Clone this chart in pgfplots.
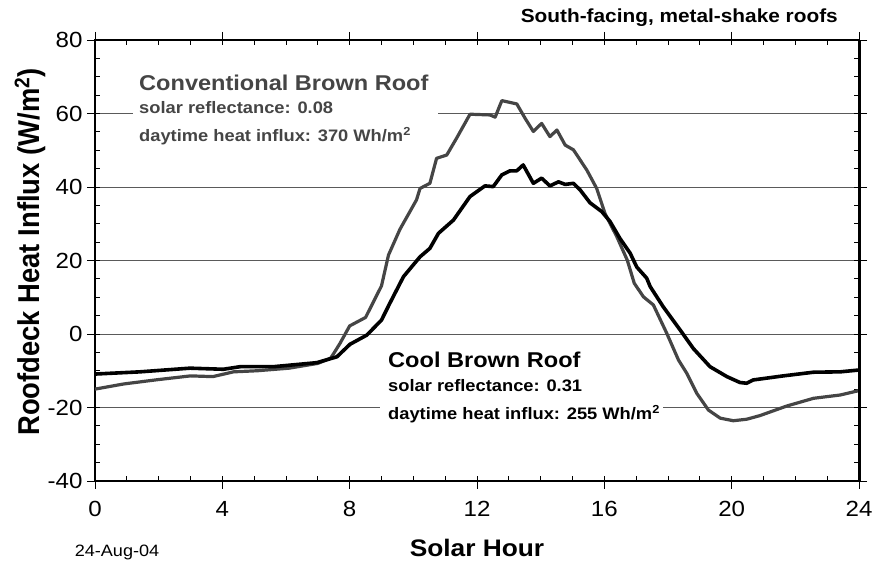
\documentclass[border=0pt]{standalone}
\usepackage{fontspec}
\setmainfont{Liberation Sans}[FakeStretch=1.1]
\newfontfamily\ylabfont{Liberation Sans}
\usepackage{pgfplots}
\pgfplotsset{compat=1.18}
\definecolor{convgray}{HTML}{454545}
\definecolor{gridgray}{HTML}{5A5A5A}

\pgfplotstableread{
h v
0 -15.0
0.9 -13.6
1.9 -12.5
3.0 -11.4
3.7 -11.6
4.35 -10.3
5.1 -10.0
6.1 -9.3
7.0 -8.0
7.4 -6.6
7.5 -5.3
7.7 -2.5
8.0 2.2
8.5 4.5
9.0 13.1
9.22 21.5
9.58 28.5
10.1 36.5
10.21 39.6
10.52 41.0
10.73 47.8
11.05 48.7
11.36 53.3
11.78 59.8
12.41 59.6
12.57 59.0
12.78 63.5
13.25 62.6
13.51 58.7
13.77 55.1
14.03 57.3
14.29 53.7
14.51 55.5
14.77 51.4
15.03 50.1
15.45 44.6
15.76 39.6
16.02 32.8
16.39 26.5
16.72 20.1
16.94 13.8
17.23 10.1
17.54 7.9
17.96 0.2
18.33 -7.1
18.59 -10.7
18.9 -16.1
19.27 -20.7
19.64 -22.9
20.05 -23.6
20.47 -23.2
20.89 -22.2
21.73 -19.6
22.57 -17.5
23.41 -16.6
24 -15.4
}\convtable

\pgfplotstableread{
h v
0 -10.9
1.41 -10.3
2.98 -9.3
4.03 -9.6
4.56 -8.9
5.6 -8.9
6.97 -7.8
7.6 -6.2
8.01 -2.8
8.54 -0.3
9.0 3.8
9.27 8.5
9.69 15.6
10.21 21.0
10.52 23.3
10.79 27.4
11.26 31.0
11.78 37.4
12.25 40.3
12.51 40.1
12.78 43.3
13.04 44.4
13.25 44.4
13.45 46.0
13.77 41.0
14.03 42.4
14.29 40.3
14.56 41.4
14.77 40.7
15.03 41.0
15.24 39.2
15.55 35.7
15.92 33.3
16.18 30.6
16.49 26.0
16.81 22.0
17.02 18.2
17.33 15.2
17.44 12.9
17.85 7.4
18.38 1.1
18.8 -4.0
19.32 -8.9
19.85 -11.6
20.26 -13.2
20.47 -13.4
20.68 -12.5
21.62 -11.4
22.57 -10.4
23.41 -10.3
24 -9.8
}\cooltable

\begin{document}
\begin{tikzpicture}[x=1bp,y=1bp]
\useasboundingbox (0,0) rectangle (874,562);
\begin{axis}[
  at={(95bp,81bp)}, anchor=south west,
  scale only axis, width=764bp, height=441bp,
  xmin=0, xmax=24, ymin=-40, ymax=80,
  xtick={0,4,...,24}, ytick={-40,-20,...,80},
  minor x tick num=3, minor y tick num=3,
  ymajorgrids, major grid style={gridgray, line width=0.8bp},
  tick align=inside, major tick length=5bp, minor tick length=5bp,
  tick style={black, line width=0.8bp},
  extra x ticks={0,4,...,24}, extra x tick labels={},
  extra x tick style={tick align=outside, major tick length=8bp, grid=none},
  extra y ticks={-40,-20,...,80}, extra y tick labels={},
  extra y tick style={tick align=outside, major tick length=8bp, grid=none},
  axis line style={black, line width=1.3bp},
  /pgf/number format/assume math mode=true,
  ticklabel style={font=\fontsize{22}{22}\selectfont},
  xticklabel style={yshift=-17bp},
  yticklabel style={xshift=-9bp},
  clip=false,
]
\addplot[convgray, line width=3.2bp, line join=round] table[x=h,y=v] {\convtable};
\addplot[black, line width=3.6bp, line join=round] table[x=h,y=v] {\cooltable};
\end{axis}
\draw[line width=3bp] (859,81) -- (859,522);
% white gaps in grid behind annotation blocks
\fill[white] (133,442) rectangle (438,456);
\fill[white] (380,147) rectangle (663,162);
\node[anchor=base east, inner sep=0, font=\bfseries\fontsize{19}{19}\selectfont] at (838,539) {South-facing, metal-shake roofs};
\node[anchor=base west, inner sep=0, text=convgray, font=\bfseries\fontsize{21.5}{21.5}\selectfont] at (139,471) {Conventional Brown Roof};
\node[anchor=base west, inner sep=0, text=convgray, font=\bfseries\fontsize{16.7}{16.7}\selectfont] at (139,448) {solar reflectance: 0.08};
\node[anchor=base west, inner sep=0, text=convgray, font=\bfseries\fontsize{16.7}{16.7}\selectfont] at (139,420) {daytime heat influx: 370 Wh/m\textsuperscript{2}};
\node[anchor=base west, inner sep=0, font=\bfseries\fontsize{21.5}{21.5}\selectfont] at (388,194) {Cool Brown Roof};
\node[anchor=base west, inner sep=0, font=\bfseries\fontsize{16.7}{16.7}\selectfont] at (388,170) {solar reflectance: 0.31};
\node[anchor=base west, inner sep=0, font=\bfseries\fontsize{16.7}{16.7}\selectfont] at (388,142) {daytime heat influx: 255 Wh/m\textsuperscript{2}};
\node[anchor=base, inner sep=0, font=\fontsize{16.5}{16.5}\selectfont] at (117,5) {24-Aug-04};
\node[anchor=base, inner sep=0, font=\bfseries\fontsize{24}{24}\selectfont] at (477,5) {Solar Hour};
\node[rotate=90, inner sep=0, font=\ylabfont\bfseries\fontsize{27.5}{27.5}\selectfont] at (30,310) {\scalebox{1}[1.1]{Roofdeck Heat Influx (W/m\textsuperscript{2})}};
\end{tikzpicture}
\end{document}
